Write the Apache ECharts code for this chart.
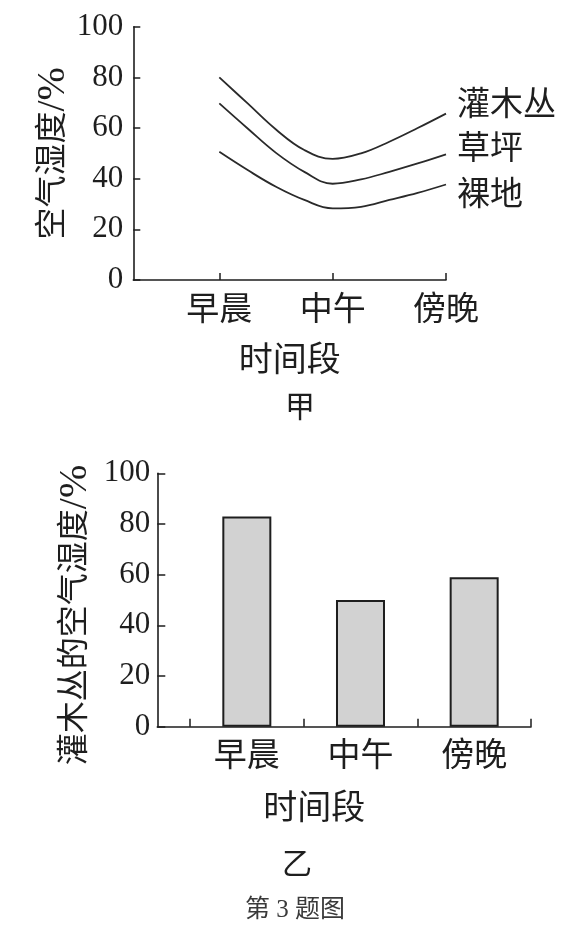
<!DOCTYPE html>
<html>
<head>
<meta charset="utf-8">
<script src="https://cdn.jsdelivr.net/npm/echarts@6/dist/echarts.min.js"></script>
<style>
html,body{margin:0;padding:0;background:#fff;}
#chart{width:577px;height:927px;}
</style>
</head>
<body>
<div id="chart"></div>
<script>
// ---- data ----
const categories = ['早晨', '中午', '傍晚'];
const categoryPositions = [1, 2, 3];
// positions along the time axis where the curves were read (1 = 早晨, 2 = 中午, 3 = 傍晚)
const samplePositions = [1, 1.25, 1.5, 1.75, 2, 2.25, 2.5, 2.75, 3];
const shrubHumidity = [80, 69.7, 59.4, 51.3, 47.8, 50, 54.6, 60, 65.7];
const lawnHumidity = [69.7, 59.8, 50.2, 42.7, 38, 39.7, 42.7, 46, 49.6];
const bareHumidity = [50.6, 43.4, 36.8, 31.6, 28.3, 28.9, 31.6, 34.4, 37.7];
const lineSeriesNames = ['灌木丛', '草坪', '裸地'];
const shrubBarValues = [83, 50, 59];
const barTickPositions = [0.5, 1.5, 2.5, 3.5];

// ---- styles ----
const FONT = '"Liberation Serif", "Noto Sans CJK SC", serif';
const INK = '#1e1e1e';
const axisLineStyle = { lineStyle: { color: INK, width: 1.6 } };

function pairs(xs, ys) { return xs.map((x, i) => [x, ys[i]]); }
function catLabel(v) { return categories[Math.round(v) - 1] || ''; }

const lineData = [shrubHumidity, lawnHumidity, bareHumidity];
const endOffsets = [[0, -7], [0, -4], [0, 12]];
const unitRich = { u: { fontFamily: FONT, fontSize: 40, color: INK } };

const chart = echarts.init(document.getElementById('chart'), null, { renderer: 'canvas' });

const option = {
  backgroundColor: '#fff',
  animation: false,
  grid: [
    { left: 133.3, top: 26.7, width: 312.7, height: 253.3 },
    { left: 157.3, top: 473.3, width: 373.7, height: 253.4 }
  ],
  xAxis: [
    {
      gridIndex: 0, type: 'value', min: 0.241, max: 3,
      axisLine: axisLineStyle,
      axisTick: { show: true, inside: true, length: 7, lineStyle: { color: INK, width: 1.5 }, customValues: categoryPositions },
      axisLabel: { customValues: categoryPositions, formatter: catLabel, fontFamily: FONT, fontSize: 33, color: INK, margin: 15 },
      splitLine: { show: false },
      name: '时间段', nameLocation: 'middle', nameGap: 65, nameMoveOverlap: false,
      nameTextStyle: { fontFamily: FONT, fontSize: 34, color: INK }
    },
    {
      gridIndex: 1, type: 'value', min: 0.2124, max: 3.5,
      axisLine: axisLineStyle,
      axisTick: { show: true, inside: true, length: 8, lineStyle: { color: INK, width: 1.5 }, customValues: barTickPositions },
      axisLabel: { customValues: categoryPositions, formatter: catLabel, fontFamily: FONT, fontSize: 33, color: INK, margin: 14 },
      splitLine: { show: false },
      name: '时间段', nameLocation: 'middle', nameGap: 66, nameMoveOverlap: false,
      nameTextStyle: { fontFamily: FONT, fontSize: 34, color: INK, padding: [0, 60, 0, 0] }
    }
  ],
  yAxis: [
    {
      gridIndex: 0, type: 'value', min: 0, max: 100, interval: 20,
      axisLine: { show: true, lineStyle: { color: INK, width: 1.6 } },
      axisTick: { show: true, inside: true, length: 7, lineStyle: { color: INK, width: 1.5 } },
      axisLabel: { fontFamily: FONT, fontSize: 31, color: INK, margin: 10 },
      splitLine: { show: false },
      name: '空气湿度{u|/%}', nameLocation: 'middle', nameGap: 60, nameMoveOverlap: false,
      nameTextStyle: { fontFamily: FONT, fontSize: 32, color: INK, rich: unitRich }
    },
    {
      gridIndex: 1, type: 'value', min: 0, max: 100, interval: 20,
      axisLine: { show: true, lineStyle: { color: INK, width: 1.6 } },
      axisTick: { show: true, inside: true, length: 8, lineStyle: { color: INK, width: 1.5 } },
      axisLabel: { fontFamily: FONT, fontSize: 31, color: INK, margin: 7 },
      splitLine: { show: false },
      name: '灌木丛的空气湿度{u|/%}', nameLocation: 'middle', nameGap: 62, nameMoveOverlap: false,
      nameTextStyle: { fontFamily: FONT, fontSize: 32, color: INK, padding: [0, 30, 0, 0], rich: unitRich }
    }
  ],
  series: lineData.map((vals, i) => ({
    type: 'line', name: lineSeriesNames[i], xAxisIndex: 0, yAxisIndex: 0,
    data: pairs(samplePositions, vals),
    smooth: 0.4, showSymbol: false, symbol: 'none',
    lineStyle: { color: '#2a2a2a', width: 1.8 },
    endLabel: {
      show: true, formatter: '{a}', distance: 11, offset: endOffsets[i],
      fontFamily: FONT, fontSize: 33, color: INK, verticalAlign: 'middle'
    }
  })).concat([{
    type: 'bar', name: '灌木丛', xAxisIndex: 1, yAxisIndex: 1,
    data: pairs(categoryPositions, shrubBarValues),
    barWidth: 49,
    itemStyle: { color: '#d2d2d2', borderColor: '#1e1e1e', borderWidth: 2 }
  }]),
  graphic: [
    { type: 'text', x: 300, y: 409, style: { text: '甲', font: '30px ' + FONT, fill: INK, align: 'center', verticalAlign: 'middle' } },
    { type: 'text', x: 297, y: 866, style: { text: '乙', font: '30px ' + FONT, fill: INK, align: 'center', verticalAlign: 'middle' } },
    { type: 'text', x: 295, y: 910, style: { text: '第 3 题图', font: '25px ' + FONT, fill: '#3a3a3a', align: 'center', verticalAlign: 'middle' } }
  ]
};
chart.setOption(option);
</script>
</body>
</html>
